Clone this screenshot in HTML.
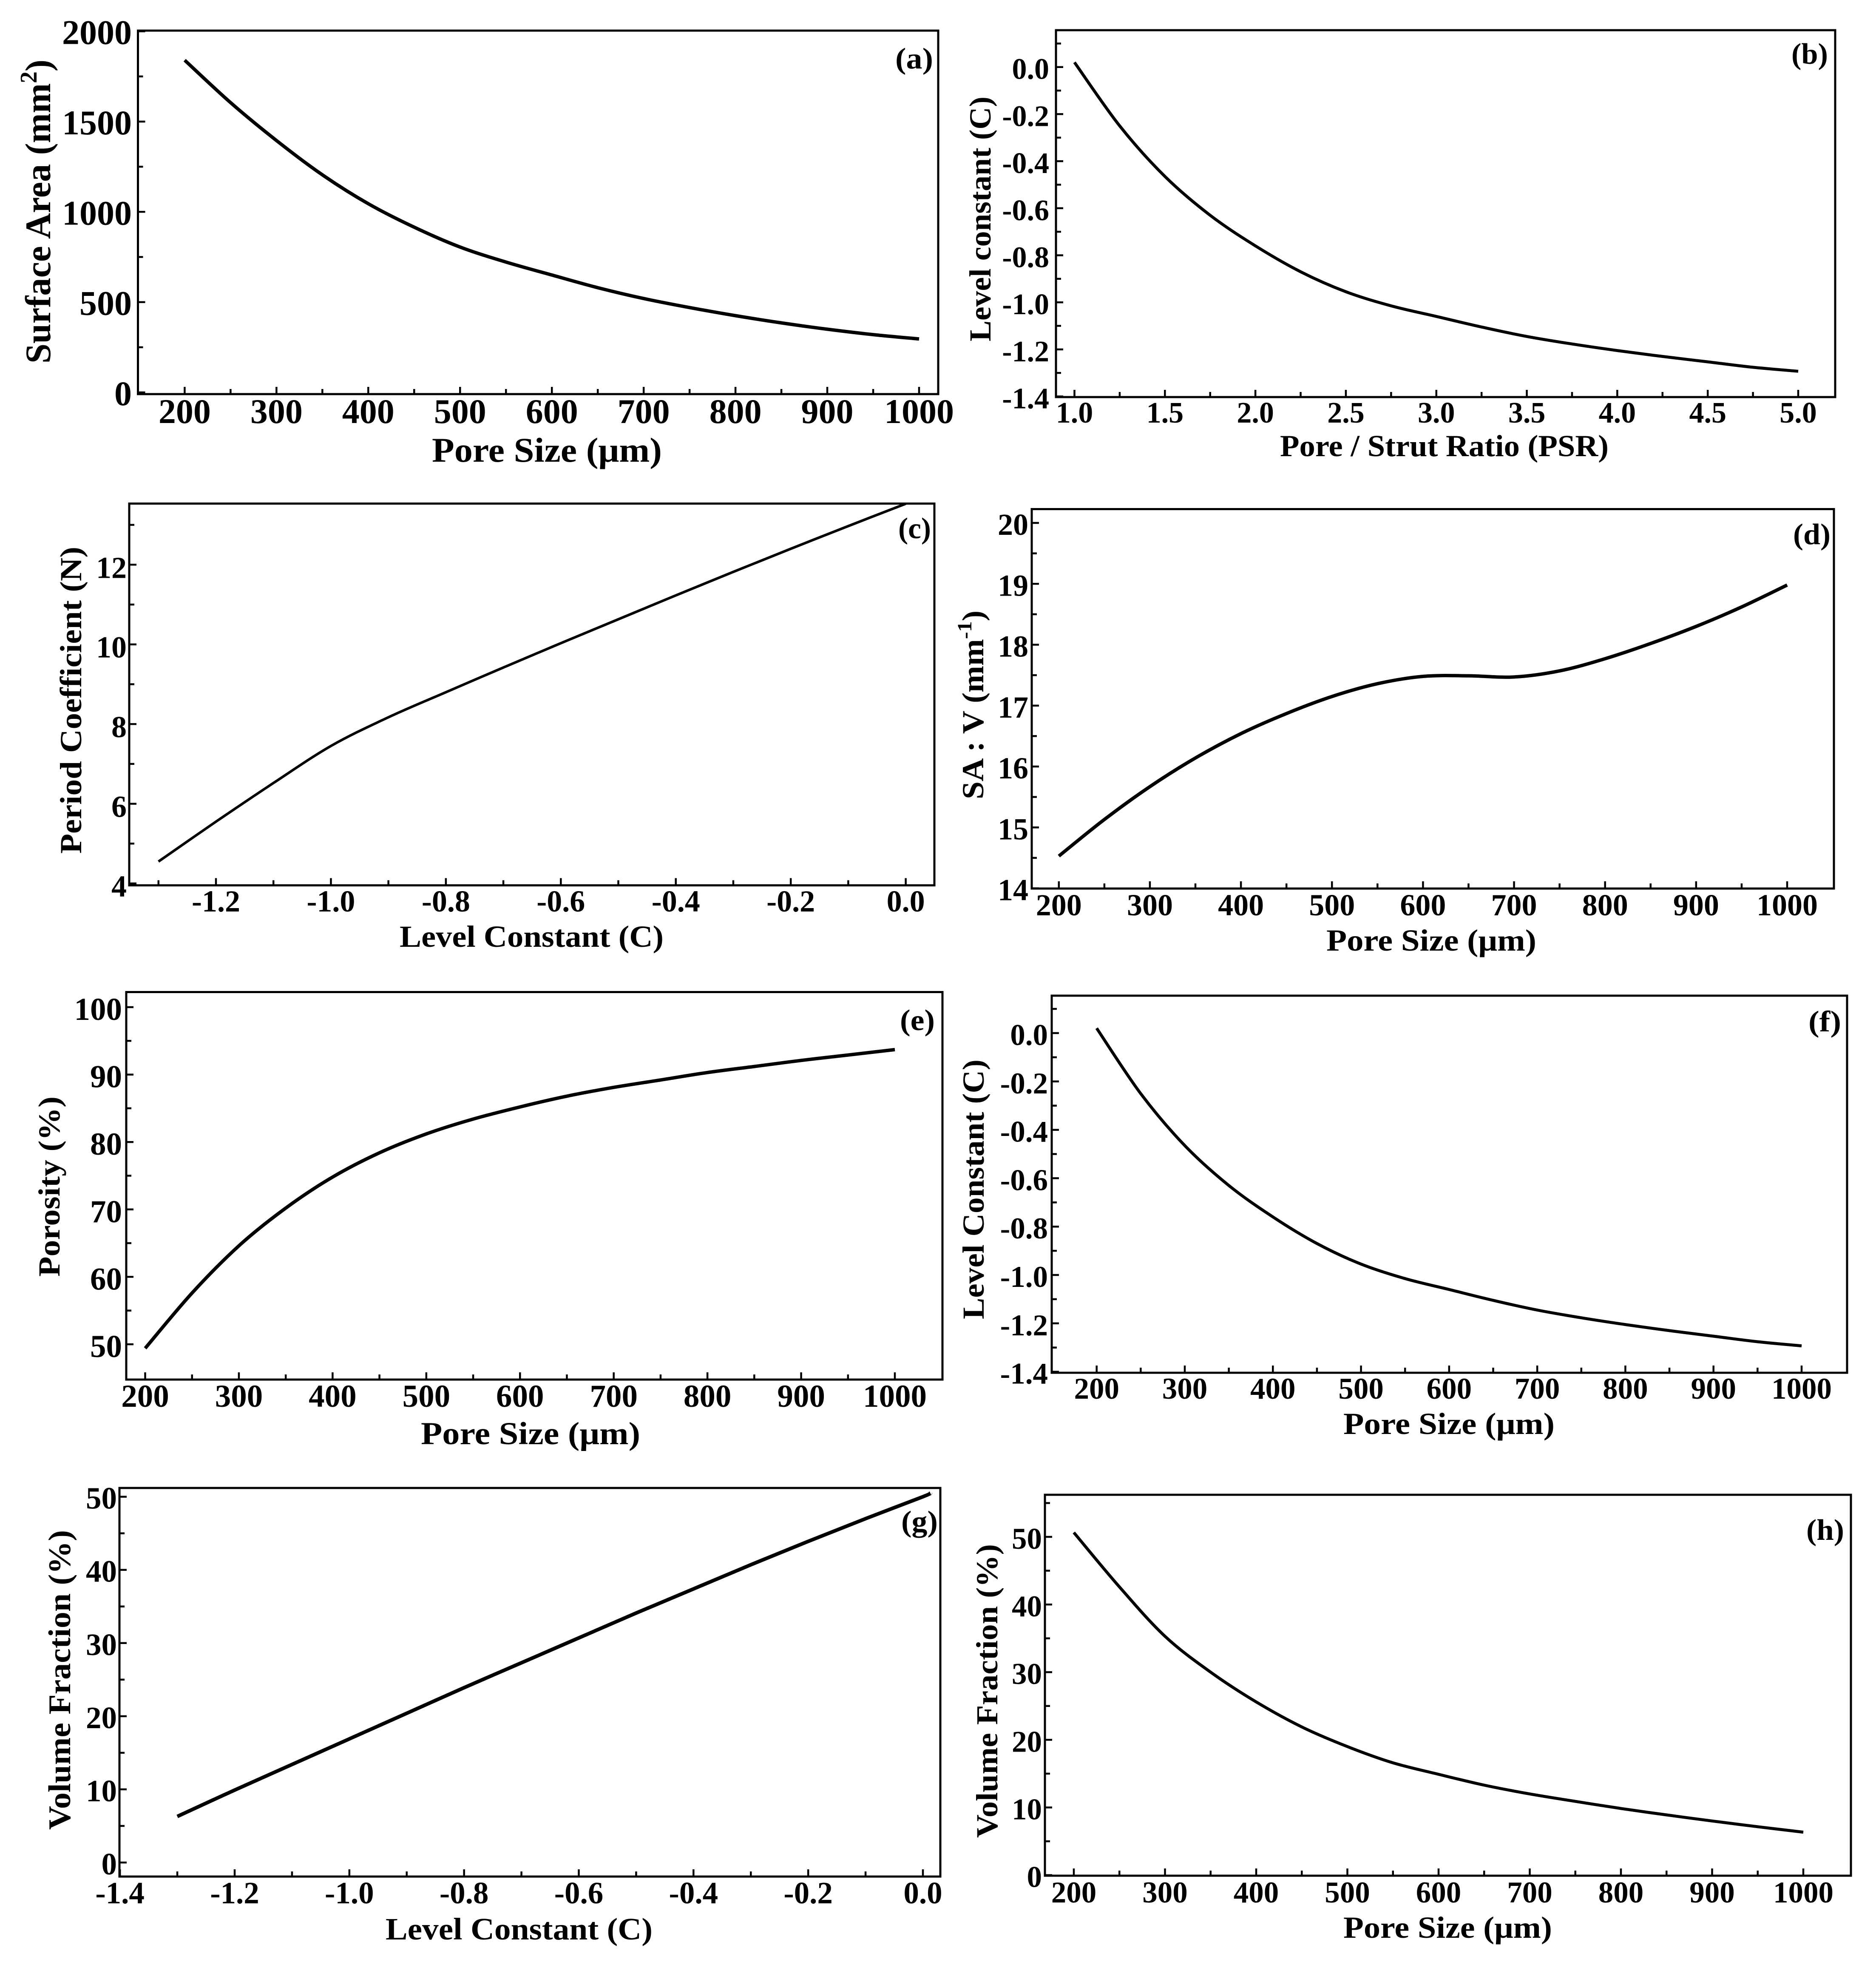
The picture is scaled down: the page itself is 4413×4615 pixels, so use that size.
<!DOCTYPE html>
<html lang="en">
<head>
<meta charset="utf-8">
<title>Scaffold geometry relationships</title>
<style>
html,body{margin:0;padding:0;background:#fff;}
#figure{display:block;width:4413px;height:4615px;background:#fff;}
text{font-family:"Liberation Serif",serif;font-weight:700;fill:#000;}
.frame{fill:none;stroke:#000;stroke-width:5;}
</style>
</head>
<body>
<svg id="figure" xmlns="http://www.w3.org/2000/svg" width="4413" height="4615" viewBox="0 0 4413 4615">
<rect x="0" y="0" width="4413" height="4615" fill="#fff"/>

<g id="panel-a">
<rect class="frame" x="324.5" y="72" width="1882.5" height="855"/>
<text x="1016" y="1086" font-size="82" textLength="541" lengthAdjust="spacingAndGlyphs">Pore Size (μm)</text>
<text transform="translate(118,855) rotate(-90)" font-size="85" textLength="715" lengthAdjust="spacingAndGlyphs">Surface Area (mm<tspan dy="-32" font-size="56">2</tspan><tspan dy="32">)</tspan></text>
<text x="2106" y="161" font-size="70" textLength="89" lengthAdjust="spacingAndGlyphs">(a)</text>
</g>

<g id="panel-b">
<rect class="frame" x="2484" y="71" width="1833" height="863"/>
<text x="3011" y="1073" font-size="72" textLength="773" lengthAdjust="spacingAndGlyphs">Pore / Strut Ratio (PSR)</text>
<text transform="translate(2330,803) rotate(-90)" font-size="72" textLength="576" lengthAdjust="spacingAndGlyphs">Level constant (C)</text>
<text x="4214" y="150" font-size="70" textLength="86" lengthAdjust="spacingAndGlyphs">(b)</text>
</g>

<g id="panel-c">
<rect class="frame" x="304" y="1184.5" width="1894" height="898"/>
<text x="940" y="2227" font-size="72" textLength="621" lengthAdjust="spacingAndGlyphs">Level Constant (C)</text>
<text transform="translate(191,2008) rotate(-90)" font-size="72" textLength="722" lengthAdjust="spacingAndGlyphs">Period Coefficient (N)</text>
<text x="2113" y="1266" font-size="70" textLength="77" lengthAdjust="spacingAndGlyphs">(c)</text>
</g>

<g id="panel-d">
<rect class="frame" x="2427" y="1197.5" width="1887" height="892.5"/>
<text x="3120" y="2236" font-size="72" textLength="494" lengthAdjust="spacingAndGlyphs">Pore Size (μm)</text>
<text transform="translate(2313,1880) rotate(-90)" font-size="72" textLength="444" lengthAdjust="spacingAndGlyphs">SA : V (mm<tspan dy="-28" font-size="48">-1</tspan><tspan dy="28">)</tspan></text>
<text x="4218" y="1280" font-size="70" textLength="88" lengthAdjust="spacingAndGlyphs">(d)</text>
</g>

<g id="panel-e">
<rect class="frame" x="297" y="2333.5" width="1920" height="911.5"/>
<text x="990" y="3397" font-size="75" textLength="516" lengthAdjust="spacingAndGlyphs">Pore Size (μm)</text>
<text transform="translate(140,3003) rotate(-90)" font-size="72" textLength="424" lengthAdjust="spacingAndGlyphs">Porosity (%)</text>
<text x="2117" y="2423" font-size="70" textLength="82" lengthAdjust="spacingAndGlyphs">(e)</text>
</g>

<g id="panel-f">
<rect class="frame" x="2474" y="2342" width="1871" height="887"/>
<text x="3160" y="3373" font-size="72" textLength="497" lengthAdjust="spacingAndGlyphs">Pore Size (μm)</text>
<text transform="translate(2314,3103) rotate(-90)" font-size="72" textLength="611" lengthAdjust="spacingAndGlyphs">Level Constant (C)</text>
<text x="4254" y="2426" font-size="70" textLength="77" lengthAdjust="spacingAndGlyphs">(f)</text>
</g>

<g id="panel-g">
<rect class="frame" x="281" y="3500" width="1931" height="914"/>
<text x="907" y="4562" font-size="73" textLength="628" lengthAdjust="spacingAndGlyphs">Level Constant (C)</text>
<text transform="translate(165,4304) rotate(-90)" font-size="74" textLength="705" lengthAdjust="spacingAndGlyphs">Volume Fraction (%)</text>
<text x="2120" y="3602" font-size="70" textLength="86" lengthAdjust="spacingAndGlyphs">(g)</text>
</g>

<g id="panel-h">
<rect class="frame" x="2458" y="3516" width="1896" height="896"/>
<text x="3160" y="4558" font-size="72" textLength="491" lengthAdjust="spacingAndGlyphs">Pore Size (μm)</text>
<text transform="translate(2346,4323) rotate(-90)" font-size="72" textLength="691" lengthAdjust="spacingAndGlyphs">Volume Fraction (%)</text>
<text x="4249" y="3622" font-size="70" textLength="89" lengthAdjust="spacingAndGlyphs">(h)</text>
</g>
</svg>

<script>
// Shared categories (pore size) and tick values
const poreSizes = [200,250,300,350,400,450,500,550,600,650,700,750,800,850,900,950,1000];
const poreTicks = [200,300,400,500,600,700,800,900,1000];
const poreMinorTicks = [250,350,450,550,650,750,850,950];

// Panel a
const aValues = [1840,1605,1395,1205,1045,915,805,722,650,580,520,470,425,385,350,320,296];
const aYTicks = [0,500,1000,1500,2000];
const aYMinor = [250,750,1250,1750];

// Panel b
const bPsr = [1,1.25,1.5,1.75,2,2.25,2.5,2.75,3,3.25,3.5,3.75,4,4.25,4.5,4.75,5];
const bValues = [0.02,-0.25,-0.465,-0.63,-0.76,-0.87,-0.955,-1.015,-1.06,-1.105,-1.145,-1.177,-1.205,-1.23,-1.253,-1.276,-1.293];
const bXTicks = [1,1.5,2,2.5,3,3.5,4,4.5,5];
const bXMinor = [1.25,1.75,2.25,2.75,3.25,3.75,4.25,4.75];
const bYTicks = [0,-0.2,-0.4,-0.6,-0.8,-1,-1.2,-1.4];
const bYMinor = [0.1,-0.1,-0.3,-0.5,-0.7,-0.9,-1.1,-1.3];

// Panel c
const cLevel = [-1.3,-1.2,-1.1,-1,-0.9,-0.8,-0.7,-0.6,-0.5,-0.4,-0.3,-0.2,-0.1,0];
const cValues = [4.55,5.55,6.52,7.45,8.17,8.8,9.42,10.03,10.63,11.23,11.82,12.4,12.97,13.53];
const cXTicks = [-1.2,-1,-0.8,-0.6,-0.4,-0.2,0];
const cXMinor = [-1.3,-1.1,-0.9,-0.7,-0.5,-0.3,-0.1];
const cYTicks = [4,6,8,10,12];
const cYMinor = [5,7,9,11,13];

// Panel d
const dValues = [14.53,15.13,15.67,16.14,16.54,16.87,17.15,17.36,17.48,17.49,17.47,17.57,17.77,18.02,18.3,18.62,18.98];
const dYTicks = [14,15,16,17,18,19,20];
const dYMinor = [14.5,15.5,16.5,17.5,18.5,19.5];

// Panel e
const eValues = [49.4,57.6,64.6,70.2,74.8,78.4,81.2,83.4,85.2,86.8,88.1,89.2,90.3,91.2,92.1,92.9,93.7];
const eYTicks = [50,60,70,80,90,100];
const eYMinor = [55,65,75,85,95];

// Panel f
const fValues = [0.02,-0.25,-0.465,-0.63,-0.76,-0.87,-0.955,-1.015,-1.06,-1.105,-1.145,-1.177,-1.205,-1.23,-1.253,-1.276,-1.293];
const fYTicks = [0,-0.2,-0.4,-0.6,-0.8,-1,-1.2,-1.4];
const fYMinor = [0.1,-0.1,-0.3,-0.5,-0.7,-0.9,-1.1,-1.3];

// Panel g
const gLevel = [-1.3,-1.2,-1.1,-1,-0.9,-0.8,-0.7,-0.6,-0.5,-0.4,-0.3,-0.2,-0.1,0,0.013];
const gValues = [6.3,9.9,13.4,16.9,20.4,23.9,27.3,30.7,34.1,37.4,40.7,43.9,47,50,50.5];
const gXTicks = [-1.4,-1.2,-1,-0.8,-0.6,-0.4,-0.2,0];
const gXMinor = [-1.3,-1.1,-0.9,-0.7,-0.5,-0.3,-0.1];
const gYTicks = [0,10,20,30,40,50];
const gYMinor = [5,15,25,35,45];

// Panel h
const hValues = [50.65,42.6,35.3,30,25.6,21.9,19,16.6,14.9,13.3,12,10.9,9.85,8.9,8,7.15,6.35];
const hYTicks = [0,10,20,30,40,50];
const hYMinor = [5,15,25,35,45,55];

const NS = 'http://www.w3.org/2000/svg';

function linear(v0, p0, v1, p1) {
  return function (v) { return p0 + (v - v0) * (p1 - p0) / (v1 - v0); };
}

function smoothPath(pts) {
  let d = 'M' + pts[0][0].toFixed(1) + ' ' + pts[0][1].toFixed(1);
  for (let i = 0; i < pts.length - 1; i++) {
    const a = pts[Math.max(i - 1, 0)], b = pts[i], c = pts[i + 1], e = pts[Math.min(i + 2, pts.length - 1)];
    const c1x = b[0] + (c[0] - a[0]) / 6, c1y = b[1] + (c[1] - a[1]) / 6;
    const c2x = c[0] - (e[0] - b[0]) / 6, c2y = c[1] - (e[1] - b[1]) / 6;
    d += 'C' + c1x.toFixed(1) + ' ' + c1y.toFixed(1) + ' ' + c2x.toFixed(1) + ' ' + c2y.toFixed(1) + ' ' + c[0].toFixed(1) + ' ' + c[1].toFixed(1);
  }
  return d;
}

function drawPanel(cfg) {
  const g = document.getElementById('panel-' + cfg.id);
  const sx = linear(cfg.xA[0], cfg.xA[1], cfg.xB[0], cfg.xB[1]);
  const sy = linear(cfg.yA[0], cfg.yA[1], cfg.yB[0], cfg.yB[1]);

  function xTick(v, len) {
    const t = document.createElementNS(NS, 'line');
    t.setAttribute('x1', sx(v));
    t.setAttribute('x2', sx(v));
    t.setAttribute('y1', cfg.bottom);
    t.setAttribute('y2', cfg.bottom - len);
    t.setAttribute('stroke', '#000');
    t.setAttribute('stroke-width', 4.5);
    
    
    g.appendChild(t);
  }
  function yTick(v, len) {
    const t = document.createElementNS(NS, 'line');
    t.setAttribute('x1', cfg.left);
    t.setAttribute('x2', cfg.left + len);
    t.setAttribute('y1', sy(v));
    t.setAttribute('y2', sy(v));
    t.setAttribute('stroke', '#000');
    t.setAttribute('stroke-width', 4.5);
    
    
    g.appendChild(t);
  }

  cfg.xTicks.forEach(function (v) {
    xTick(v, 17);
    const l = document.createElementNS(NS, 'text');
    l.setAttribute('x', sx(v));
    l.setAttribute('y', cfg.xLabelY);
    l.setAttribute('font-size', cfg.font);
    l.setAttribute('text-anchor', 'middle');
    l.textContent = v.toFixed(cfg.xDigits);
    
    
    g.appendChild(l);
  });
  cfg.xMinor.forEach(function (v) { xTick(v, 12); });

  cfg.yTicks.forEach(function (v) {
    yTick(v, 17);
    const l = document.createElementNS(NS, 'text');
    l.setAttribute('x', cfg.yLabelX);
    l.setAttribute('y', sy(v) + cfg.yLabelDy);
    l.setAttribute('font-size', cfg.font);
    l.setAttribute('text-anchor', 'end');
    l.textContent = v.toFixed(cfg.yDigits);
    
    
    g.appendChild(l);
  });
  cfg.yMinor.forEach(function (v) { yTick(v, 12); });

  const pts = cfg.xs.map(function (x, i) { return [sx(x), sy(cfg.ys[i])]; });
  const curve = document.createElementNS(NS, 'path');
  curve.setAttribute('d', smoothPath(pts));
  curve.setAttribute('fill', 'none');
  curve.setAttribute('stroke', '#000');
  curve.setAttribute('stroke-width', cfg.lineWidth);
  curve.setAttribute('stroke-linejoin', 'round');
  
  
  g.appendChild(curve);
}

drawPanel({id:'a',left:324.5,bottom:927,xA:[200,434.4],xB:[1000,2162],yA:[0,923],yB:[2000,73.6],
  xs:poreSizes,ys:aValues,xTicks:poreTicks,xMinor:poreMinorTicks,yTicks:aYTicks,yMinor:aYMinor,
  font:82,xDigits:0,yDigits:0,xLabelY:995,yLabelX:310,yLabelDy:30,lineWidth:8});
drawPanel({id:'b',left:2484,bottom:934,xA:[1,2527.5],xB:[5,4230],yA:[0,157.7],yB:[-1.4,932.5],
  xs:bPsr,ys:bValues,xTicks:bXTicks,xMinor:bXMinor,yTicks:bYTicks,yMinor:bYMinor,
  font:70,xDigits:1,yDigits:1,xLabelY:994,yLabelX:2468,yLabelDy:28,lineWidth:7});
drawPanel({id:'c',left:304,bottom:2082.5,xA:[-1.2,508],xB:[0,2130.6],yA:[4,2078],yB:[12,1328.3],
  xs:cLevel,ys:cValues,xTicks:cXTicks,xMinor:cXMinor,yTicks:cYTicks,yMinor:cYMinor,
  font:72,xDigits:1,yDigits:0,xLabelY:2144,yLabelX:298,yLabelDy:31,lineWidth:6});
drawPanel({id:'d',left:2427,bottom:2090,xA:[200,2490.8],xB:[1000,4204],yA:[14,2089.5],yB:[20,1230],
  xs:poreSizes,ys:dValues,xTicks:poreTicks,xMinor:poreMinorTicks,yTicks:dYTicks,yMinor:dYMinor,
  font:72,xDigits:0,yDigits:0,xLabelY:2153,yLabelX:2419,yLabelDy:28,lineWidth:8});
drawPanel({id:'e',left:297,bottom:3245,xA:[200,341.5],xB:[1000,2105],yA:[50,3162],yB:[100,2369],
  xs:poreSizes,ys:eValues,xTicks:poreTicks,xMinor:poreMinorTicks,yTicks:eYTicks,yMinor:eYMinor,
  font:75,xDigits:0,yDigits:0,xLabelY:3309,yLabelX:287,yLabelDy:30,lineWidth:8});
drawPanel({id:'f',left:2474,bottom:3229,xA:[200,2579.7],xB:[1000,4238],yA:[0,2430],yB:[-1.4,3226.6],
  xs:poreSizes,ys:fValues,xTicks:poreTicks,xMinor:poreMinorTicks,yTicks:fYTicks,yMinor:fYMinor,
  font:71,xDigits:0,yDigits:1,xLabelY:3290,yLabelX:2465,yLabelDy:28,lineWidth:7});
drawPanel({id:'g',left:281,bottom:4414,xA:[-1.2,552],xB:[0,2171],yA:[0,4381],yB:[50,3520.6],
  xs:gLevel,ys:gValues,xTicks:gXTicks,xMinor:gXMinor,yTicks:gYTicks,yMinor:gYMinor,
  font:73,xDigits:1,yDigits:0,xLabelY:4477,yLabelX:275,yLabelDy:28,lineWidth:8.5});
drawPanel({id:'h',left:2458,bottom:4412,xA:[200,2526],xB:[1000,4242],yA:[0,4410.6],yB:[50,3615],
  xs:poreSizes,ys:hValues,xTicks:poreTicks,xMinor:poreMinorTicks,yTicks:hYTicks,yMinor:hYMinor,
  font:71,xDigits:0,yDigits:0,xLabelY:4475,yLabelX:2451,yLabelDy:28,lineWidth:7});
</script>
</body>
</html>
